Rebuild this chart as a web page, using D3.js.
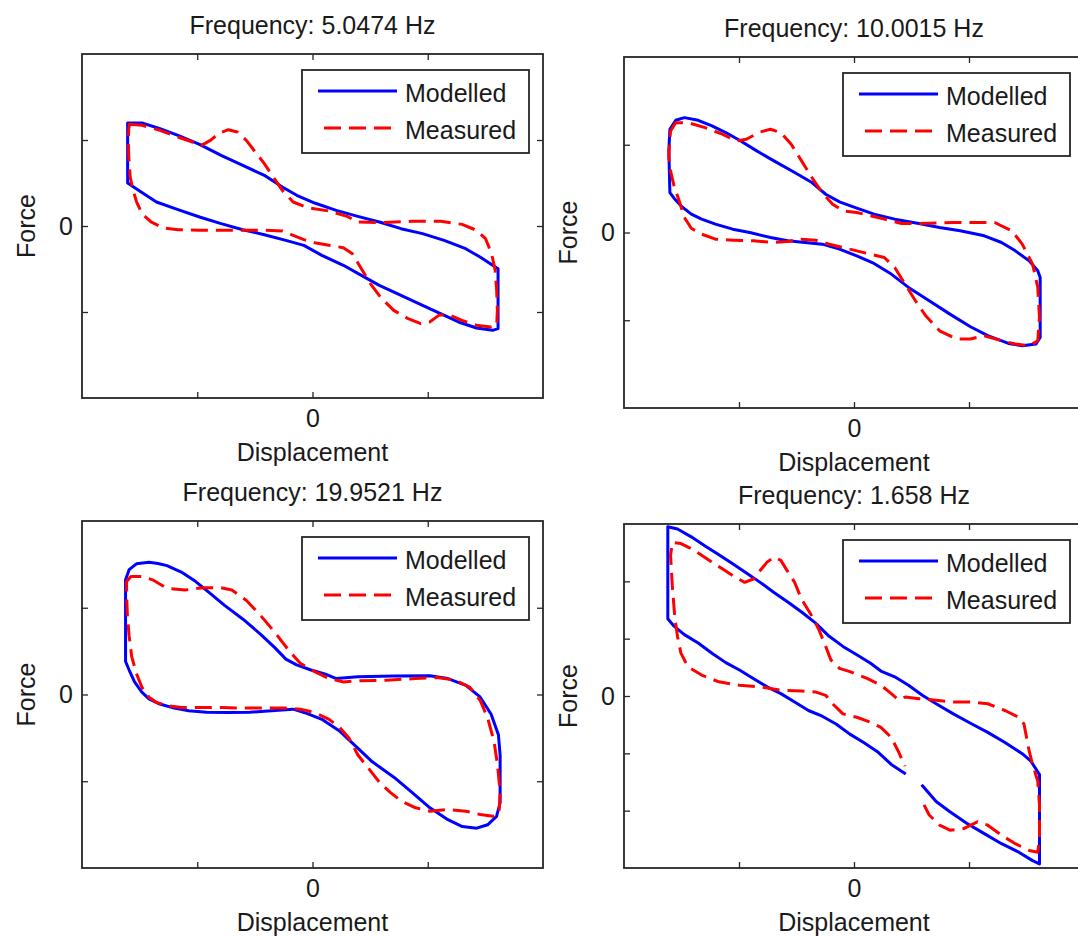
<!DOCTYPE html>
<html>
<head>
<meta charset="utf-8">
<script src="https://cdn.jsdelivr.net/npm/d3@7"></script>
<style>
  html, body { margin: 0; padding: 0; background: #fff; }
  svg { display: block; }
  text { font-family: "Liberation Sans", Arial, Helvetica, sans-serif; fill: #1a1a1a; }
</style>
</head>
<body>
<svg id="fig" width="1078" height="938"></svg>
<script>
// Excitation frequency of each test (Hz)
const frequencies = ["5.0474", "10.0015", "19.9521", "1.658"];

// Axis ranges and tick positions (only the zero tick carries a label)
const xDomain = [-2, 2];
const xTicks = [-1, 0, 1];
const yDomains = [[-2, 2], [-2, 2], [-2, 2], [-3, 3]];
const yTicksByPanel = [[-1, 0, 1], [-1, 0, 1], [-1, 0, 1], [-2, -1, 0, 1, 2]];

// Force–displacement loops, [displacement, force]

// 5.0474 Hz
const modelled5 = [
  [-1.604, 1.198], [-1.479, 1.198], [-1.323, 1.132], [-1.167, 1.054], [-0.980, 0.950],
  [-0.793, 0.822], [-0.605, 0.705], [-0.418, 0.589], [-0.262, 0.453], [-0.137, 0.357],
  [0.019, 0.267], [0.206, 0.182], [0.393, 0.112], [0.580, 0.047], [0.768, -0.031],
  [0.955, -0.089], [1.142, -0.167], [1.329, -0.264], [1.454, -0.360], [1.563, -0.457],
  [1.610, -0.496], [1.610, -1.194], [1.563, -1.213], [1.423, -1.186], [1.267, -1.116],
  [1.111, -1.019], [0.955, -0.922], [0.768, -0.806], [0.580, -0.690], [0.424, -0.574],
  [0.268, -0.457], [0.081, -0.341], [-0.075, -0.225], [-0.231, -0.167], [-0.418, -0.101],
  [-0.605, -0.043], [-0.793, 0.027], [-0.980, 0.105], [-1.167, 0.190], [-1.354, 0.279],
  [-1.510, 0.415], [-1.604, 0.500]
];
const measured5 = [
  [-1.588, 1.182], [-1.479, 1.171], [-1.323, 1.112], [-1.167, 1.035], [-1.042, 0.977],
  [-0.964, 0.938], [-0.886, 0.996], [-0.808, 1.081], [-0.730, 1.120], [-0.652, 1.093],
  [-0.574, 0.996], [-0.496, 0.860], [-0.418, 0.725], [-0.340, 0.570], [-0.262, 0.415],
  [-0.168, 0.279], [-0.044, 0.213], [0.144, 0.174], [0.300, 0.112], [0.393, 0.047],
  [0.580, 0.039], [0.861, 0.054], [1.111, 0.054], [1.298, 0.019], [1.423, -0.050],
  [1.501, -0.147], [1.554, -0.322], [1.585, -0.516], [1.598, -0.748], [1.604, -0.981],
  [1.598, -1.155], [1.548, -1.174], [1.423, -1.155], [1.298, -1.097], [1.173, -1.027],
  [1.095, -1.039], [1.017, -1.116], [0.939, -1.136], [0.830, -1.078], [0.705, -0.981],
  [0.596, -0.837], [0.502, -0.671], [0.424, -0.496], [0.346, -0.322], [0.268, -0.252],
  [0.144, -0.225], [0.019, -0.194], [-0.075, -0.159], [-0.168, -0.109], [-0.262, -0.058],
  [-0.418, -0.050], [-0.605, -0.050], [-0.793, -0.050], [-0.980, -0.050], [-1.167, -0.043],
  [-1.292, -0.023], [-1.401, 0.047], [-1.479, 0.143], [-1.526, 0.279], [-1.557, 0.415],
  [-1.582, 0.570], [-1.594, 0.802], [-1.598, 0.996], [-1.594, 1.132]
];

// 10.0015 Hz
const modelled10 = [
  [-1.601, 0.455], [-1.610, 0.930], [-1.601, 1.176], [-1.550, 1.279], [-1.475, 1.309],
  [-1.355, 1.279], [-1.235, 1.214], [-1.115, 1.139], [-0.996, 1.051], [-0.846, 0.930],
  [-0.696, 0.816], [-0.516, 0.683], [-0.366, 0.569], [-0.246, 0.436], [-0.126, 0.349],
  [0.024, 0.277], [0.174, 0.209], [0.354, 0.152], [0.564, 0.102], [0.744, 0.057],
  [0.924, 0.019], [1.133, -0.038], [1.283, -0.114], [1.403, -0.209], [1.523, -0.323],
  [1.598, -0.436], [1.619, -0.512], [1.619, -1.195], [1.583, -1.271], [1.463, -1.290],
  [1.343, -1.264], [1.163, -1.176], [1.013, -1.074], [0.834, -0.930], [0.654, -0.778],
  [0.474, -0.626], [0.324, -0.474], [0.174, -0.353], [0.024, -0.266], [-0.126, -0.190],
  [-0.276, -0.133], [-0.426, -0.114], [-0.576, -0.095], [-0.726, -0.057], [-0.906, 0.000],
  [-1.055, 0.038], [-1.205, 0.095], [-1.325, 0.152], [-1.415, 0.209], [-1.505, 0.304],
  [-1.565, 0.391]
];
const measured10 = [
  [-1.595, 1.157], [-1.550, 1.252], [-1.445, 1.252], [-1.295, 1.195], [-1.145, 1.120],
  [-1.025, 1.044], [-0.936, 1.063], [-0.816, 1.146], [-0.726, 1.176], [-0.636, 1.139],
  [-0.546, 1.006], [-0.456, 0.816], [-0.366, 0.626], [-0.276, 0.455], [-0.186, 0.323],
  [-0.096, 0.247], [0.024, 0.228], [0.144, 0.190], [0.264, 0.152], [0.414, 0.102],
  [0.564, 0.102], [0.864, 0.114], [1.223, 0.114], [1.373, 0.019], [1.463, -0.133],
  [1.553, -0.361], [1.598, -0.626], [1.613, -0.968], [1.598, -1.233], [1.523, -1.290],
  [1.403, -1.271], [1.283, -1.233], [1.133, -1.176], [1.013, -1.214], [0.894, -1.214],
  [0.744, -1.120], [0.624, -0.949], [0.534, -0.778], [0.444, -0.588], [0.354, -0.398],
  [0.264, -0.285], [0.144, -0.247], [0.024, -0.209], [-0.096, -0.171], [-0.216, -0.133],
  [-0.336, -0.087], [-0.456, -0.076], [-0.576, -0.102], [-0.696, -0.114], [-0.876, -0.095],
  [-1.055, -0.087], [-1.205, -0.076], [-1.325, -0.019], [-1.415, 0.049], [-1.475, 0.171],
  [-1.520, 0.361], [-1.565, 0.531], [-1.595, 0.702], [-1.610, 0.854], [-1.604, 1.044]
];

// 19.9521 Hz
const modelled20 = [
  [-1.622, 0.380], [-1.622, 1.322], [-1.591, 1.439], [-1.528, 1.506], [-1.419, 1.525],
  [-1.341, 1.510], [-1.263, 1.486], [-1.138, 1.412], [-1.013, 1.302], [-0.888, 1.165],
  [-0.763, 1.027], [-0.606, 0.871], [-0.450, 0.694], [-0.325, 0.537], [-0.231, 0.408],
  [-0.138, 0.341], [-0.013, 0.282], [0.113, 0.235], [0.206, 0.184], [0.394, 0.204],
  [0.706, 0.212], [1.019, 0.216], [1.175, 0.184], [1.331, 0.106], [1.456, -0.031],
  [1.550, -0.227], [1.613, -0.463], [1.628, -0.698], [1.628, -1.247], [1.597, -1.404],
  [1.519, -1.502], [1.425, -1.541], [1.300, -1.522], [1.175, -1.443], [1.019, -1.306],
  [0.863, -1.129], [0.706, -0.953], [0.519, -0.776], [0.363, -0.580], [0.238, -0.424],
  [0.081, -0.286], [-0.044, -0.220], [-0.169, -0.169], [-0.356, -0.188], [-0.544, -0.204],
  [-0.731, -0.208], [-0.919, -0.204], [-1.075, -0.188], [-1.200, -0.157], [-1.325, -0.110],
  [-1.419, -0.051], [-1.481, 0.027], [-1.544, 0.145], [-1.591, 0.282]
];
const measured20 = [
  [-1.613, 1.302], [-1.575, 1.361], [-1.481, 1.361], [-1.388, 1.322], [-1.263, 1.224],
  [-1.106, 1.204], [-0.950, 1.231], [-0.794, 1.231], [-0.700, 1.204], [-0.575, 1.086],
  [-0.450, 0.910], [-0.325, 0.714], [-0.200, 0.498], [-0.106, 0.361], [0.019, 0.263],
  [0.144, 0.184], [0.269, 0.145], [0.394, 0.157], [0.644, 0.165], [0.894, 0.184],
  [1.081, 0.196], [1.238, 0.165], [1.363, 0.086], [1.456, -0.071], [1.519, -0.267],
  [1.575, -0.541], [1.606, -0.816], [1.628, -1.129], [1.619, -1.365], [1.566, -1.404],
  [1.456, -1.384], [1.331, -1.345], [1.175, -1.325], [1.019, -1.345], [0.894, -1.306],
  [0.769, -1.227], [0.675, -1.129], [0.581, -1.012], [0.488, -0.855], [0.394, -0.698],
  [0.316, -0.502], [0.238, -0.384], [0.144, -0.286], [0.019, -0.208], [-0.106, -0.169],
  [-0.231, -0.157], [-0.419, -0.157], [-0.606, -0.157], [-0.794, -0.149], [-0.981, -0.149],
  [-1.138, -0.149], [-1.263, -0.129], [-1.356, -0.090], [-1.419, -0.031], [-1.481, 0.086],
  [-1.528, 0.243], [-1.569, 0.439], [-1.591, 0.675], [-1.606, 0.910], [-1.613, 1.145]
];

// 1.658 Hz (recorded sweep has a short data gap near mid-stroke)
const modelled1_6 = [
  [0.588, -1.547], [0.714, -1.841], [0.834, -2.018], [0.983, -2.224], [1.133, -2.400],
  [1.283, -2.576], [1.433, -2.724], [1.553, -2.871], [1.613, -2.929], [1.613, -1.371],
  [1.538, -1.135], [1.463, -1.006], [1.313, -0.812], [1.163, -0.635], [1.013, -0.476],
  [0.864, -0.312], [0.714, -0.135], [0.594, 0.012], [0.474, 0.188], [0.354, 0.335],
  [0.234, 0.435], [0.144, 0.571], [0.024, 0.718], [-0.096, 0.865], [-0.216, 1.041],
  [-0.336, 1.276], [-0.456, 1.465], [-0.576, 1.641], [-0.696, 1.806], [-0.816, 1.982],
  [-0.936, 2.147], [-1.055, 2.306], [-1.175, 2.465], [-1.295, 2.618], [-1.415, 2.776],
  [-1.535, 2.912], [-1.619, 2.953], [-1.619, 1.347], [-1.565, 1.218], [-1.475, 1.071],
  [-1.355, 0.924], [-1.235, 0.747], [-1.115, 0.582], [-0.996, 0.453], [-0.876, 0.306],
  [-0.756, 0.159], [-0.636, 0.041], [-0.516, -0.106], [-0.396, -0.253], [-0.276, -0.353],
  [-0.156, -0.488], [-0.036, -0.665], [0.084, -0.812], [0.204, -0.971], [0.324, -1.194],
  [0.450, -1.359]
];
const measured1_6 = [
  [0.609, -1.900], [0.654, -2.076], [0.744, -2.253], [0.834, -2.341], [0.954, -2.312],
  [1.073, -2.194], [1.163, -2.253], [1.283, -2.429], [1.403, -2.576], [1.523, -2.694],
  [1.598, -2.724], [1.613, -2.488], [1.613, -1.900], [1.598, -1.488], [1.553, -1.194],
  [1.523, -0.959], [1.478, -0.488], [1.433, -0.371], [1.313, -0.253], [1.163, -0.135],
  [1.013, -0.106], [0.864, -0.106], [0.714, -0.076], [0.564, -0.047], [0.444, -0.018],
  [0.384, -0.065], [0.324, 0.041], [0.234, 0.188], [0.114, 0.306], [-0.036, 0.424],
  [-0.126, 0.482], [-0.201, 0.629], [-0.246, 0.865], [-0.306, 1.159], [-0.366, 1.394],
  [-0.456, 1.688], [-0.516, 1.982], [-0.591, 2.218], [-0.636, 2.365], [-0.696, 2.424],
  [-0.756, 2.335], [-0.816, 2.188], [-0.876, 2.041], [-0.951, 1.982], [-1.055, 2.100],
  [-1.145, 2.218], [-1.235, 2.335], [-1.325, 2.453], [-1.415, 2.571], [-1.505, 2.659],
  [-1.580, 2.676], [-1.595, 2.453], [-1.580, 1.924], [-1.559, 1.394], [-1.535, 1.041],
  [-1.505, 0.747], [-1.445, 0.512], [-1.325, 0.365], [-1.175, 0.247], [-0.996, 0.188],
  [-0.816, 0.159], [-0.636, 0.100], [-0.456, 0.088], [-0.336, 0.071], [-0.246, 0.012],
  [-0.186, -0.135], [-0.096, -0.312], [0.024, -0.371], [0.144, -0.459], [0.234, -0.547],
  [0.324, -0.724], [0.384, -0.959], [0.444, -1.224]
];

const modelledSets = [modelled5, modelled10, modelled20, modelled1_6];
const measuredSets = [measured5, measured10, measured20, measured1_6];
const closedLoop = [true, true, true, false];
const legendLabels = ["Modelled", "Measured"];

// Axes placement on the figure
const frames = [
  { left: 82,  top: 54,  width: 461, height: 344 },
  { left: 624, top: 57,  width: 460, height: 351 },
  { left: 82,  top: 521, width: 461, height: 347 },
  { left: 624, top: 524, width: 460, height: 344 }
];

const BLUE = "#0000ff", RED = "#ff0000", INK = "#262626";
const FONT = 25;
const LINE_W = 3;
const DASH = "17,8";
const svg = d3.select("#fig");

frames.forEach((f, i) => {
  const g = svg.append("g").attr("transform", `translate(${f.left},${f.top})`);
  const x = d3.scaleLinear().domain(xDomain).range([0, f.width]);
  const y = d3.scaleLinear().domain(yDomains[i]).range([f.height, 0]);
  const yTicks = yTicksByPanel[i];
  const zeroOnly = d => (d === 0 ? "0" : "");

  // ticks on all four sides, pointing inward
  const styleAxis = sel => {
    sel.select(".domain").remove();
    sel.selectAll(".tick line").attr("stroke", INK).attr("stroke-width", 1.3);
    sel.selectAll(".tick text")
      .style("font-size", FONT + "px")
      .style("font-family", '"Liberation Sans", Arial, sans-serif')
      .attr("fill", "#1a1a1a");
  };
  g.append("g").attr("transform", `translate(0,${f.height})`)
    .call(d3.axisBottom(x).tickValues(xTicks).tickSizeInner(-6).tickSizeOuter(0)
      .tickPadding(11).tickFormat(zeroOnly))
    .call(styleAxis);
  g.append("g")
    .call(d3.axisTop(x).tickValues(xTicks).tickSizeInner(-6).tickSizeOuter(0).tickFormat(""))
    .call(styleAxis);
  g.append("g")
    .call(d3.axisLeft(y).tickValues(yTicks).tickSizeInner(-6).tickSizeOuter(0)
      .tickPadding(9).tickFormat(zeroOnly))
    .call(styleAxis);
  g.append("g").attr("transform", `translate(${f.width},0)`)
    .call(d3.axisRight(y).tickValues(yTicks).tickSizeInner(-6).tickSizeOuter(0).tickFormat(""))
    .call(styleAxis);

  // curves
  const line = d3.line()
    .x(d => x(d[0])).y(d => y(d[1]))
    .curve(closedLoop[i] ? d3.curveLinearClosed : d3.curveLinear);

  g.append("path").datum(modelledSets[i])
    .attr("d", line).attr("fill", "none")
    .attr("stroke", BLUE).attr("stroke-width", LINE_W)
    .attr("stroke-linejoin", "round");
  g.append("path").datum(measuredSets[i])
    .attr("d", line).attr("fill", "none")
    .attr("stroke", RED).attr("stroke-width", LINE_W)
    .attr("stroke-dasharray", DASH)
    .attr("stroke-linejoin", "round");

  // axes box
  g.append("rect").attr("width", f.width).attr("height", f.height)
    .attr("fill", "none").attr("stroke", INK).attr("stroke-width", 1.8);

  // labels
  g.append("text").attr("x", f.width / 2).attr("y", -20)
    .attr("text-anchor", "middle").style("font-size", FONT + "px")
    .text(`Frequency: ${frequencies[i]} Hz`);
  g.append("text").attr("x", f.width / 2).attr("y", f.height + 63)
    .attr("text-anchor", "middle").style("font-size", FONT + "px")
    .text("Displacement");
  g.append("text")
    .attr("transform", `translate(-47,${f.height / 2}) rotate(-90)`)
    .attr("text-anchor", "middle").style("font-size", FONT + "px")
    .text("Force");

  // legend
  const lw = 227, lh = 83;
  const lg = g.append("g").attr("transform", `translate(${f.width - 14 - lw},16)`);
  lg.append("rect").attr("width", lw).attr("height", lh)
    .attr("fill", "#fff").attr("stroke", INK).attr("stroke-width", 1.8);
  const rows = [
    { label: legendLabels[0], color: BLUE, dash: null, y: 21 },
    { label: legendLabels[1], color: RED, dash: DASH, y: 58 }
  ];
  rows.forEach(r => {
    lg.append("line").attr("x1", r.dash ? 22 : 16).attr("x2", 95)
      .attr("y1", r.y).attr("y2", r.y)
      .attr("stroke", r.color).attr("stroke-width", LINE_W)
      .attr("stroke-dasharray", r.dash);
    lg.append("text").attr("x", 103).attr("y", r.y + 11)
      .style("font-size", FONT + "px").text(r.label);
  });
});
</script>
</body>
</html>
